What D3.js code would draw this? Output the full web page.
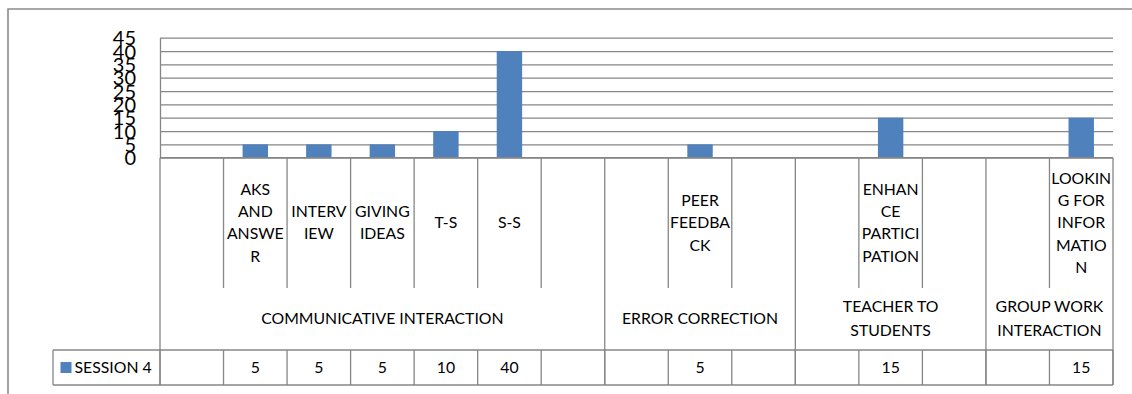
<!DOCTYPE html>
<html>
<head>
<meta charset="utf-8">
<script src="https://cdn.jsdelivr.net/npm/d3@7"></script>
<style>
  html, body { margin: 0; padding: 0; background: #ffffff; }
  svg { display: block; }
  text { font-family: "Lato", "Open Sans", sans-serif; fill: #000; }
</style>
</head>
<body>
<script>
// Category labels, wrapped the way they appear under each column
const categoryLabels = [
  [],
  ["AKS", "AND", "ANSWE", "R"],
  ["INTERV", "IEW"],
  ["GIVING", "IDEAS"],
  ["T-S"],
  ["S-S"],
  [],
  [],
  ["PEER", "FEEDBA", "CK"],
  [],
  [],
  ["ENHAN", "CE", "PARTICI", "PATION"],
  [],
  [],
  ["LOOKIN", "G FOR", "INFOR", "MATIO", "N"]
];

// Session 4 counts per category (null = empty cell)
const session4 = [null, 5, 5, 5, 10, 40, null, null, 5, null, null, 15, null, null, 15];

// Outer grouping level of the category axis
const groupNames = [
  ["COMMUNICATIVE INTERACTION"],
  ["ERROR CORRECTION"],
  ["TEACHER TO", "STUDENTS"],
  ["GROUP WORK", "INTERACTION"]
];
const groupSizes = [7, 3, 3, 2];

const yTicks = [0, 5, 10, 15, 20, 25, 30, 35, 40, 45];
const seriesName = "SESSION 4";

const W = 1132, H = 394;
const plotLeft = 160, plotRight = 1113, plotTop = 37.7, plotBottom = 157.7;
const innerRowBottom = 288, tableTop = 350, tableBottom = 385, legendLeft = 53;
const lineColor = "#868686";
const barColor = "#4F81BD";

const svg = d3.select("body").append("svg").attr("width", W).attr("height", H);

// Chart frame
svg.append("path")
  .attr("d", `M8,${H}V9H${W}`)
  .attr("fill", "none").attr("stroke", "#8c8c8c").attr("stroke-width", 1.6);

const x = d3.scaleBand().domain(d3.range(categoryLabels.length)).range([plotLeft, plotRight]).paddingInner(0).paddingOuter(0);
const y = d3.scaleLinear().domain([0, 45]).range([plotBottom, plotTop]);

// Value axis with full-width gridlines
const yAxis = svg.append("g")
  .attr("transform", `translate(${plotLeft},0)`)
  .call(d3.axisLeft(y).tickValues(yTicks).tickSizeInner(-(plotRight - plotLeft)).tickSizeOuter(0).tickPadding(24));
yAxis.selectAll(".tick line").attr("stroke", lineColor).attr("stroke-width", 1.3);
yAxis.select(".domain").attr("stroke", lineColor).attr("stroke-width", 1.3);
yAxis.selectAll(".tick text")
  .attr("font-size", 20).attr("font-family", "Lato, sans-serif").attr("fill", "#000").attr("dy", "0.36em");

// Bars
svg.append("g").selectAll("rect")
  .data(session4.map((v, i) => ({ v, i })).filter(d => d.v != null))
  .join("rect")
  .attr("x", d => x(d.i) + x.bandwidth() * 0.3)
  .attr("width", x.bandwidth() * 0.4)
  .attr("y", d => y(d.v))
  .attr("height", d => y(0) - y(d.v))
  .attr("fill", barColor);

// Category axis baseline
svg.append("line")
  .attr("x1", plotLeft).attr("x2", plotRight)
  .attr("y1", plotBottom).attr("y2", plotBottom)
  .attr("stroke", lineColor).attr("stroke-width", 1.3);

// Boundaries between categories; group boundaries run down to the data table
const groupEdges = new Set([0]);
groupSizes.reduce((acc, n) => { groupEdges.add(acc + n); return acc + n; }, 0);
const edges = d3.range(categoryLabels.length + 1);
const edgeX = i => (i < categoryLabels.length ? x(i) : plotRight);

svg.append("g").selectAll("line")
  .data(edges)
  .join("line")
  .attr("x1", edgeX).attr("x2", edgeX)
  .attr("y1", plotBottom)
  .attr("y2", i => groupEdges.has(i) ? tableBottom : innerRowBottom)
  .attr("stroke", lineColor).attr("stroke-width", 1.3);

// Inner category labels
const lineH = 22.2;
const labelFont = 15.8;
const catG = svg.append("g").attr("font-size", labelFont).attr("text-anchor", "middle");
categoryLabels.forEach((lines, i) => {
  const cx = x(i) + x.bandwidth() / 2;
  const cy = (plotBottom + innerRowBottom) / 2;
  const t = catG.append("text").attr("x", cx).attr("y", cy - (lines.length - 1) * lineH / 2);
  lines.forEach((s, k) => {
    t.append("tspan").attr("x", cx).attr("dy", k === 0 ? "0.35em" : lineH).text(s);
  });
});

// Group labels
const grpG = svg.append("g").attr("font-size", labelFont).attr("text-anchor", "middle");
let start = 0;
groupNames.forEach((lines, g) => {
  const x0 = x(start), x1 = edgeX(start + groupSizes[g]);
  const cx = (x0 + x1) / 2, cy = (innerRowBottom + tableTop) / 2 - 0.5;
  const t = grpG.append("text").attr("x", cx).attr("y", cy - (lines.length - 1) * 23.3 / 2);
  lines.forEach((s, k) => {
    t.append("tspan").attr("x", cx).attr("dy", k === 0 ? "0.35em" : 23.3).text(s);
  });
  start += groupSizes[g];
});

// Data table
const table = svg.append("g");
[tableTop, tableBottom].forEach(yy => {
  table.append("line")
    .attr("x1", legendLeft).attr("x2", plotRight)
    .attr("y1", yy).attr("y2", yy)
    .attr("stroke", lineColor).attr("stroke-width", 1.3);
});
table.append("line")
  .attr("x1", legendLeft).attr("x2", legendLeft)
  .attr("y1", tableTop).attr("y2", tableBottom)
  .attr("stroke", lineColor).attr("stroke-width", 1.3);
table.selectAll("line.cell")
  .data(edges)
  .join("line")
  .attr("class", "cell")
  .attr("x1", edgeX).attr("x2", edgeX)
  .attr("y1", tableTop).attr("y2", tableBottom)
  .attr("stroke", lineColor).attr("stroke-width", 1.3);

const rowY = (tableTop + tableBottom) / 2;
table.append("rect")
  .attr("x", 60.5).attr("y", rowY - 5.5).attr("width", 11).attr("height", 11)
  .attr("fill", barColor);
table.append("text")
  .attr("x", 74.5).attr("y", rowY).attr("dy", "0.35em")
  .attr("font-size", labelFont).text(seriesName);

table.append("g").attr("font-size", labelFont).attr("text-anchor", "middle")
  .selectAll("text")
  .data(session4.map((v, i) => ({ v, i })).filter(d => d.v != null))
  .join("text")
  .attr("x", d => x(d.i) + x.bandwidth() / 2)
  .attr("y", rowY).attr("dy", "0.35em")
  .text(d => d.v);
</script>
</body>
</html>
